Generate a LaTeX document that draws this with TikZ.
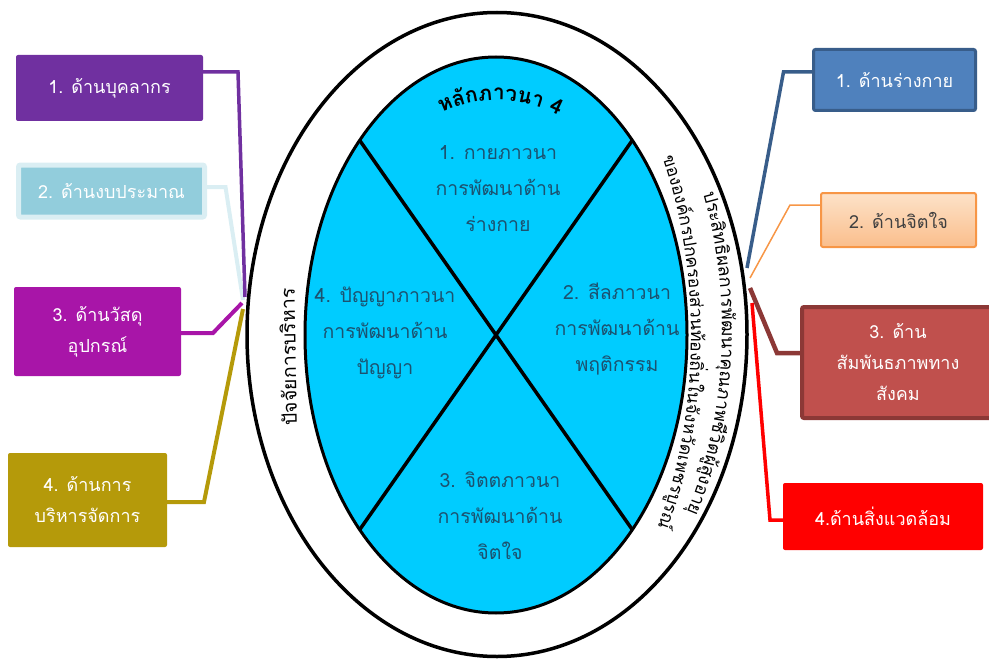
\documentclass[tikz,border=0pt]{standalone}
\usepackage{fontspec}
\newfontfamily\thaifont[Script=Thai]{Loma}
\usetikzlibrary{shapes.geometric,decorations.text}
\definecolor{ringcyan}{RGB}{0,204,255}
\definecolor{secttext}{RGB}{28,82,112}
\definecolor{cpurple}{RGB}{112,48,160}
\definecolor{clblue}{RGB}{146,205,220}
\definecolor{clbluebd}{RGB}{218,238,243}
\definecolor{cmagenta}{RGB}{168,21,168}
\definecolor{colive}{RGB}{181,154,10}
\definecolor{cblue}{RGB}{79,129,189}
\definecolor{cbluebd}{RGB}{56,93,138}
\definecolor{corangebd}{RGB}{247,150,70}
\definecolor{corangetop}{RGB}{253,226,200}
\definecolor{corangebot}{RGB}{250,190,140}
\definecolor{cbrick}{RGB}{192,80,77}
\definecolor{cbrickbd}{RGB}{140,56,54}
\definecolor{cred}{RGB}{255,0,0}
\begin{document}
\begin{tikzpicture}[x=1pt,y=-1pt,
  box/.style={rectangle, rounded corners=2pt, align=center, text=white,
    font=\thaifont\fontsize{18}{31}\selectfont, inner sep=0pt, outer sep=0pt},
  sect/.style={align=center, text=secttext, font=\thaifont\fontsize{19.5}{36}\selectfont},
  link/.style={line width=#1, line join=miter},
  ring/.style={ellipse, draw=black, inner sep=0pt, outer sep=0pt}]
\useasboundingbox (0,0) rectangle (989,661);
\clip (0,0) rectangle (989,661);

% ellipses
\node[ring, line width=3.5pt, fill=white, minimum width=500pt, minimum height=644pt] (outer) at (497,334.5) {};
\node[ring, line width=3pt, fill=ringcyan, minimum width=382pt, minimum height=556pt] (inner) at (496,335) {};
\draw[line width=3.5pt] (inner.125) -- (inner.305);
\draw[line width=3.5pt] (inner.55) -- (inner.235);

% quadrant texts
\node[sect] (q1) at (498,189) {1. กายภาวนา\\การพัฒนาด้าน\\ร่างกาย};
\node[sect] (q2) at (617,329) {2. สีลภาวนา\\การพัฒนาด้าน\\พฤติกรรม};
\node[sect] (q3) at (500,516) {3. จิตตภาวนา\\การพัฒนาด้าน\\จิตใจ};
\node[sect] (q4) at (385,333) {4. ปัญญาภาวนา\\การพัฒนาด้าน\\ปัญญา};

% curved titles
\path[decorate, decoration={text along path, text align=center,
  text={|\thaifont\bfseries\fontsize{21}{24}\selectfont|ห{ลั}กภาวนา 4}}]
  plot[domain=-124:-54, samples=60] ({497+170*cos(\x)},{335+235*sin(\x)});
\path[decorate, decoration={text along path, text align=center,
  text={|\thaifont\fontsize{18}{20}\selectfont|ประ{สิ}ท{ธิ}ผลการ{พั}ฒนา{คุ}ณภาพ{ชี}{วิ}ต{ผู้}{สู}งอา{ยุ}}}]
  plot[domain=-45:55, samples=100] ({497+225*cos(\x)},{330+340*sin(\x)});
\path[decorate, decoration={text along path, text align=center,
  text={|\thaifont\fontsize{17.5}{20}\selectfont|ขององ{ค์}กรปกครอง{ส่}วน{ท้}อง{ถิ่}นใน{จั}งห{วั}ดเพชร{บู}ร{ณ์}}}]
  plot[domain=-55:58, samples=110] ({497+194*cos(\x)},{336+342*sin(\x)});
\node[rotate=91, font=\thaifont\fontsize{19.5}{22}\selectfont] (lefttitle) at (288,357) {ปัจจัยการบริหาร};

% left boxes
\node[box, fill=cpurple, minimum width=187pt, minimum height=66pt] (lb1) at (109.5,88) {1. ด้านบุคลากร};
\node[box, fill=clblue, draw=clbluebd, line width=5pt, minimum width=186pt, minimum height=52pt] (lb2) at (111.5,191) {2. ด้านงบประมาณ};
\node[box, fill=cmagenta, minimum width=167pt, minimum height=89pt] (lb3) at (97.5,331.5) {3. ด้านวัสดุ\\อุปกรณ์};
\node[box, fill=colive, minimum width=159pt, minimum height=94pt] (lb4) at (87.5,500) {4. ด้านการ\\บริหารจัดการ};

% right boxes
\node[box, fill=cblue, draw=cbluebd, line width=3pt, minimum width=162pt, minimum height=61pt] (rb1) at (894.5,80) {1. ด้านร่างกาย};
\node[box, top color=corangetop, bottom color=corangebot, draw=corangebd, line width=2pt, text=black!75, minimum width=155pt, minimum height=54pt] (rb2) at (898.5,220) {2. ด้านจิตใจ};
\node[box, fill=cbrick, draw=cbrickbd, line width=4pt, minimum width=192pt, minimum height=111pt] (rb3) at (898,362.5) {3. ด้าน\\สัมพันธภาพทาง\\สังคม};
\node[box, fill=cred, minimum width=200pt, minimum height=67pt] (rb4) at (883,516.5) {4.ด้านสิ่งแวดล้อม};

% hub points
\coordinate (lh1) at (245,297);
\coordinate (lh2) at (243,300);
\coordinate (lh3) at (242,303);
\coordinate (lh4) at (243,309);
\coordinate (rh1) at (747,268);
\coordinate (rh2) at (750,278);
\coordinate (rh3) at (750,288);
\coordinate (rh4) at (752,303);

% connectors
\draw[link=4pt, draw=clbluebd] ([yshift=4pt]lb2.east) -- ++(21,0) -- (lh2);
\draw[link=3.5pt, draw=cpurple] ([yshift=16pt]lb1.east) -- ++(35,0) -- (lh1);
\draw[link=4pt, draw=cmagenta] ([yshift=-1.5pt]lb3.east) -- ++(32,0) -- (lh3);
\draw[link=4pt, draw=colive] ([yshift=-2pt]lb4.east) -- ++(37,0) -- (lh4);
\draw[link=3.5pt, draw=cbluebd] ([yshift=8pt]rb1.west) -- ++(-30,0) -- (rh1);
\draw[link=1.5pt, draw=corangebd] ([yshift=15pt]rb2.west) -- ++(-31,0) -- (rh2);
\draw[link=4.5pt, draw=cbrickbd] ([yshift=9.5pt]rb3.west) -- ++(-25,0) -- (rh3);
\draw[link=3.5pt, draw=cred] ([yshift=-3.5pt]rb4.west) -- ++(-13,0) -- (rh4);
\end{tikzpicture}
\end{document}
